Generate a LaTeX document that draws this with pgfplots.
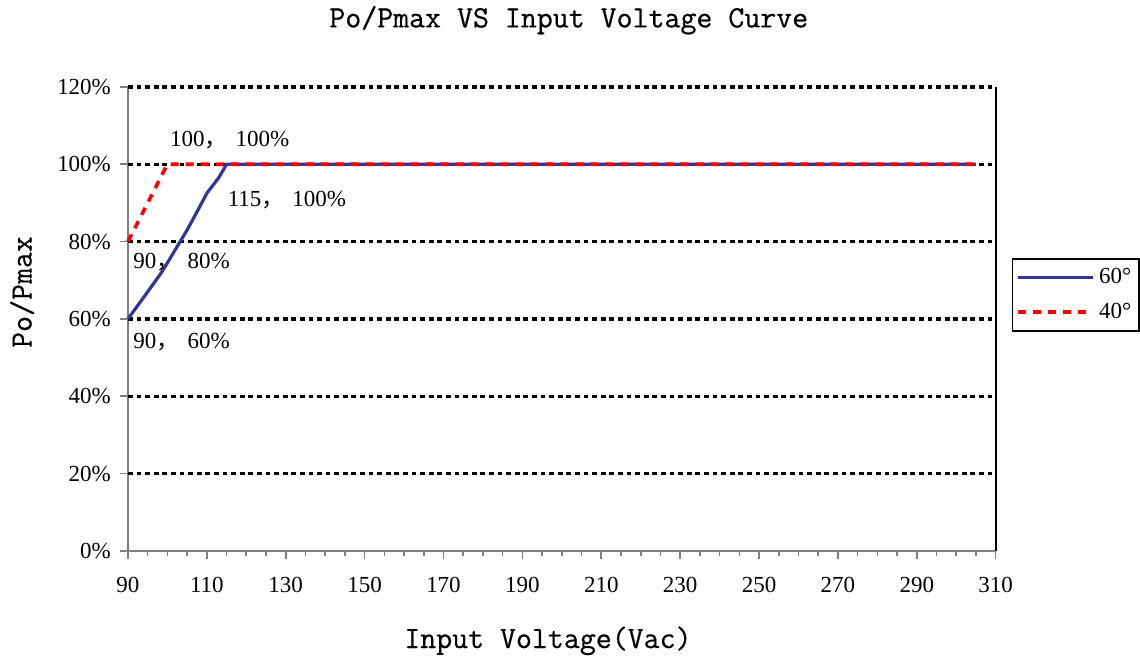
\documentclass[border=0pt]{standalone}
\usepackage{fontspec}
\setmainfont{Liberation Serif}
\newfontfamily\cjk{Noto Sans CJK SC}
\newfontfamily\monofont{Latin Modern Mono}[FakeBold=0.5]
\usepackage{pgfplots}
\pgfplotsset{compat=1.18}
\definecolor{navy}{HTML}{333399}
\definecolor{axgray}{HTML}{808080}
\newcommand{\lbl}{\fontsize{11.5}{13}\selectfont}
\newcommand{\bigmono}{\fontsize{15.5}{17}\selectfont\monofont}
\newcommand{\sep}{{\cjk，}\hspace{0.35em}}
\tikzset{gridline/.style={black, line width=1.7pt, dash pattern=on 2.4pt off 1.9pt}}
\begin{document}
\begin{tikzpicture}
\begin{axis}[
  scale only axis, width=434pt, height=232pt,
  xmin=90, xmax=310, ymin=0, ymax=120,
  axis x line*=bottom, axis y line*=left,
  axis line style={axgray, line width=1pt},
  xtick={90,110,...,310},
  xticklabels={90,110,130,150,170,190,210,230,250,270,290,310},
  minor x tick num=3,
  ytick={0,20,...,120},
  yticklabels={0\%,20\%,40\%,60\%,80\%,100\%,120\%},
  tick align=outside,
  major tick length=4pt, minor tick length=2.5pt,
  tick style={axgray, line width=0.8pt},
  ticklabel style={font=\lbl},
  xticklabel style={yshift=-5.5pt},
  yticklabel style={xshift=-1pt},
  clip=false,
  legend style={at={(1.0184,0.6315)}, anchor=north west, draw=black,
    line width=0.8pt, inner xsep=2pt, inner ysep=3pt, row sep=4pt,
    font=\lbl, cells={anchor=west}},
  legend image code/.code={\draw[#1] (0pt,0pt) -- (37.5pt,0pt);},
]
\foreach \y in {20,40,...,120} {
  \edef\tmp{\noexpand\draw[gridline] (axis cs:90,\y) -- (axis cs:310,\y);}\tmp
}
\draw[black, line width=1pt] (rel axis cs:1,0) -- (rel axis cs:1,1);
\addplot[navy, line width=1.6pt] coordinates {
  (90,60) (95,67) (98.5,72) (100,74.5) (105,83) (107.5,87.7)
  (110,92.5) (113,96.5) (115,100) (305,100)};
\addlegendentry{60°}
\addplot[red, line width=1.8pt, dash pattern=on 4pt off 3.5pt] coordinates {
  (90,80) (100,100) (305,100)};
\addlegendentry{40°}
\node[anchor=west, inner sep=0, font=\lbl] at (axis cs:100.6,106.3) {100\sep 100\%};
\node[anchor=west, inner sep=0, font=\lbl] at (axis cs:115.2,90.8) {115\sep 100\%};
\node[anchor=west, inner sep=0, font=\lbl] at (axis cs:91.3,74.8) {90\sep 80\%};
\node[anchor=west, inner sep=0, font=\lbl] at (axis cs:91.3,54.0) {90\sep 60\%};
\node[inner sep=0, font=\bigmono] at (rel axis cs:0.508,1.144) {Po/Pmax VS Input Voltage Curve};
\node[inner sep=0, font=\bigmono] at (rel axis cs:0.484,-0.194) {Input Voltage(Vac)};
\node[inner sep=0, font=\bigmono, rotate=90] at (rel axis cs:-0.122,0.558) {Po/Pmax};
\end{axis}
\path (-64pt,-54.5pt) rectangle (506pt,275.5pt);
\end{tikzpicture}
\end{document}
